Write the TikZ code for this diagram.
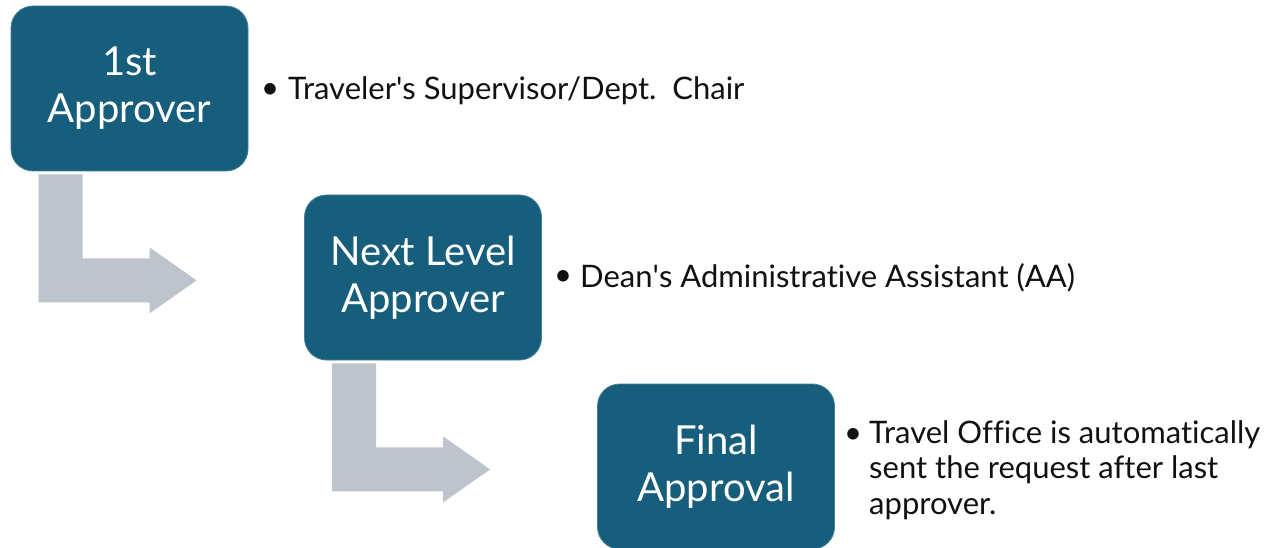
\documentclass[tikz,border=0pt]{standalone}
\usepackage{fontspec}
\setmainfont{Lato}[Ligatures={NoCommon,NoRare}]
\definecolor{boxblue}{RGB}{23,94,125}
\definecolor{arrowgray}{RGB}{189,196,204}
\definecolor{txt}{RGB}{17,17,17}
\tikzset{
  stagebox/.style={draw=boxblue!80!white, line width=0.8pt, fill=boxblue, rounded corners=22pt,
    minimum width=237pt, minimum height=165pt, text=white, align=center,
    font=\fontsize{40}{47}\selectfont, inner sep=0pt},
  bulletdot/.style={text=txt, font=\fontsize{31}{35.5}\selectfont, inner sep=0pt},
  bullettext/.style={text=txt, anchor=west, align=left, font=\fontsize{31}{35.5}\selectfont, inner sep=0pt},
  bendarrow/.style={fill=arrowgray, draw=none}
}
\begin{document}
\begin{tikzpicture}[x=1pt,y=-1pt]
\useasboundingbox (0,0) rectangle (1272,548);
\node[stagebox] (b1) at (129.5,88.5) {1st\\Approver};
\node[stagebox] (b2) at (423,277.5) {Next Level\\Approver};
\node[stagebox] (b3) at (716,466.5) {Final\\Approval};
\foreach \b in {b1,b2}{
  \begin{scope}[shift={(\b.south west)}]
    \fill[bendarrow] (28,3) -- (72,3) -- (72,87) -- (139,87) -- (139,76) -- (186,109)
      -- (139,142) -- (139,131) -- (28,131) -- cycle;
  \end{scope}
}
% bullets
\node[bulletdot] (d1) at (270,91) {•};
\node[bullettext] (t1) at (288,91) {Traveler\textquotesingle s Supervisor/Dept.\ \ Chair};
\node[bulletdot] (d2) at (563,278) {•};
\node[bullettext] (t2) at (580,278) {Dean\textquotesingle s Administrative Assistant (AA)};
\node[bulletdot] (d3) at (853,436) {•};
\node[bullettext, anchor=north west] (t3) at (869,420) {Travel Office is automatically\\sent the request after last\\approver.};
\end{tikzpicture}
\end{document}
